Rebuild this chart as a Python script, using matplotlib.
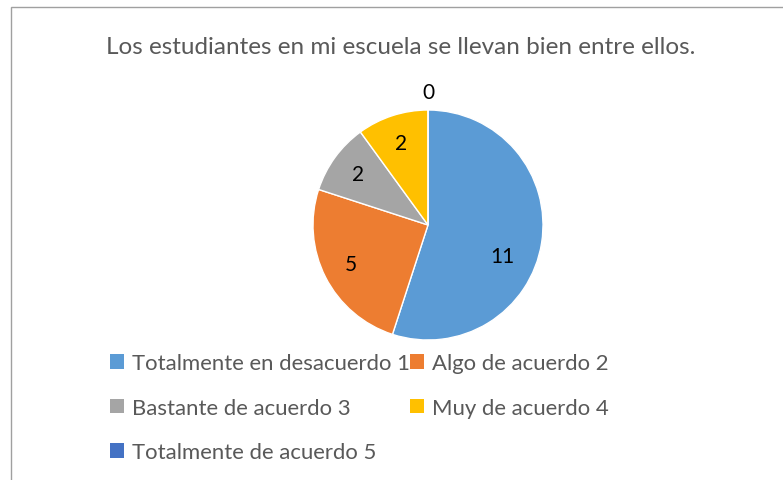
import matplotlib
matplotlib.use('Agg')
import matplotlib.pyplot as plt
from matplotlib.patches import Rectangle, Patch

# Chart data
title = "Los estudiantes en mi escuela se llevan bien entre ellos."
categories = ["Totalmente en desacuerdo 1", "Algo de acuerdo 2", "Bastante de acuerdo 3",
              "Muy de acuerdo 4", "Totalmente de acuerdo 5"]
values = [11, 5, 2, 2, 0]
colors = ["#5B9BD5", "#ED7D31", "#A5A5A5", "#FFC000", "#4472C4"]

W, H, DPI = 783, 481, 100
plt.rcParams['font.family'] = ['Lato', 'DejaVu Sans']
text_color = '#595959'

fig = plt.figure(figsize=(W / DPI, H / DPI), dpi=DPI)
ax = fig.add_axes([0, 0, 1, 1])

total = sum(values)
wedges, _, autotexts = ax.pie(values, colors=colors, startangle=90, counterclock=False,
                              autopct=lambda p: f"{round(p * total / 100)}",
                              pctdistance=0.75, labels=None,
                              wedgeprops=dict(edgecolor='white', linewidth=1),
                              textprops=dict(fontsize=15, color='black'))

# zero slice label sits outside the pie, like Excel does
for t, v in zip(autotexts, values):
    if v == 0:
        x, y = t.get_position()
        t.set_position((x / 0.75 * 1.16, y / 0.75 * 1.16))
# Excel's best-fit nudges the big slice label lower
autotexts[0].set_position((0.65, -0.27))

# map pie center/radius to pixels: center (428, 226), radius 115
cx, cy, r = 428, 226, 115
ax.set_xlim(-cx / r, (W - cx) / r)
ax.set_ylim(-(H - cy) / r, cy / r)
ax.set_axis_off()

fig.text(401 / W, 1 - 48 / H, title, ha='center', va='center', fontsize=17.5, color=text_color)

handles = [Patch(facecolor=c, edgecolor='none') for c in colors]
order = [0, 2, 4, 1, 3]
leg = fig.legend([handles[i] for i in order], [categories[i] for i in order],
                 ncol=2, loc='upper left', bbox_to_anchor=(110 / W, 1 - 354 / H),
                 frameon=False, fontsize=15.9, labelcolor=text_color,
                 handlelength=0.65, handleheight=0.65, handletextpad=0.35,
                 labelspacing=1.12, columnspacing=0.0, borderpad=0, borderaxespad=0)

# chart border (cut off at right and bottom)
fig.patches.append(Rectangle((11 / W, -0.1), 1.2, (H - 8) / H + 0.1, transform=fig.transFigure,
                             fill=False, edgecolor='#a0a0a0', linewidth=1))

fig.savefig('out.png', dpi=DPI)
